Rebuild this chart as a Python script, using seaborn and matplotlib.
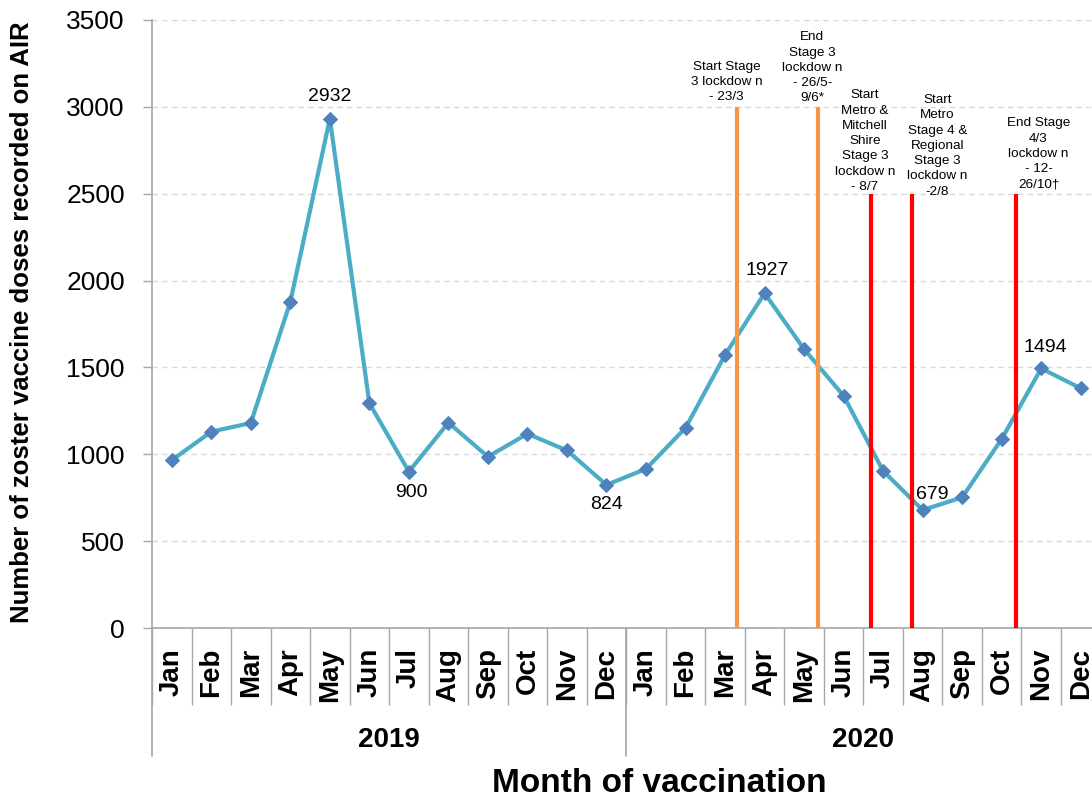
import numpy as np
import pandas as pd
import matplotlib
matplotlib.use("Agg")
import matplotlib.pyplot as plt
import seaborn as sns

# ---------------- data ----------------
months = ["Jan", "Feb", "Mar", "Apr", "May", "Jun", "Jul", "Aug", "Sep", "Oct", "Nov", "Dec"]
years = ["2019", "2020"]
doses_2019 = [966, 1130, 1180, 1877, 2932, 1294, 900, 1182, 986, 1118, 1022, 824]
doses_2020 = [916, 1152, 1572, 1927, 1605, 1337, 904, 679, 752, 1088, 1494, 1380]

# points that carry a value label: (index, offset x px, offset y px)
labelled = [(4, 0, 22), (6, 2, -21), (11, 0, -20), (15, 3, 23), (19, 10, 16), (22, 4, 21)]

# lockdown event markers (position on category axis, top value, colour, text)
event_pos = [14.30, 16.35, 17.69, 18.72, 21.36]
event_top = [3000, 3000, 2500, 2500, 2500]
event_col = ["#F79646", "#F79646", "#FF0000", "#FF0000", "#FF0000"]
event_text = [
    "Start Stage\n3 lockdow n\n- 23/3",
    "End\nStage 3\nlockdow n\n- 26/5-\n9/6*",
    "Start\nMetro &\nMitchell\nShire\nStage 3\nlockdow n\n- 8/7",
    "Start\nMetro\nStage 4 &\nRegional\nStage 3\nlockdow n\n-2/8",
    "End Stage\n4/3\nlockdow n\n- 12-\n26/10\u2020",
]
event_text_x = [14.04, 16.21, 17.54, 19.37, 21.93]
event_text_y = [3020, 3015, 2505, 2478, 2520]

doses = doses_2019 + doses_2020
df = pd.DataFrame({
    "pos": np.arange(len(doses)),
    "month": months * 2,
    "year": [years[0]] * 12 + [years[1]] * 12,
    "doses": doses,
})

# ---------------- style ----------------
sns.set_style("white")
plt.rcParams["font.family"] = ["Liberation Sans", "DejaVu Sans"]
plt.rcParams["text.color"] = "black"
plt.rcParams["xtick.labelcolor"] = "black"
plt.rcParams["ytick.labelcolor"] = "black"

W, H = 1092, 805
fig = plt.figure(figsize=(W / 100, H / 100), dpi=100)
ax_left, ax_bottom = 152 / W, (H - 628) / H
ax_w, ax_h = 948.5 / W, 608 / H
ax = fig.add_axes([ax_left, ax_bottom, ax_w, ax_h])

GRAY = "#A6A6A6"

ax.set_xlim(-0.5, 23.5)
ax.set_ylim(0, 3500)
ax.set_yticks(np.arange(0, 3501, 500))
ax.yaxis.grid(True, linestyle=(0, (4, 3)), color="#D9D9D9", lw=1)
ax.xaxis.grid(False)
ax.set_axisbelow(True)

for s in ["top", "right"]:
    ax.spines[s].set_visible(False)
for s in ["left", "bottom"]:
    ax.spines[s].set_color(GRAY)
    ax.spines[s].set_linewidth(1.2)

# event lines
ax.vlines(event_pos, 0, event_top, colors=event_col, lw=3, zorder=5)
for x, y, t in zip(event_text_x, event_text_y, event_text):
    ax.text(x, y, t, ha="center", va="bottom", fontsize=9.7, linespacing=1.36,
            color="black", zorder=6)

# data line
sns.lineplot(data=df, x="pos", y="doses", ax=ax, color="#4BACC6", lw=3,
             marker="D", markersize=7, markerfacecolor="#4F81BD",
             markeredgecolor="#4F81BD", zorder=4)

for i, dx, dy in labelled:
    ax.annotate(str(doses[i]), (df["pos"][i], doses[i]),
                xytext=(dx * 0.72, dy * 0.72), textcoords="offset points",
                ha="center", va="center", fontsize=14, color="black", zorder=6)

# axes text
ax.set_xlabel("")
ax.set_ylabel("")
ax.tick_params(axis="y", which="major", length=6.5, width=1, color=GRAY,
               labelsize=19, pad=13, left=True, labelcolor="black")
ax.set_xticks(df["pos"])
ax.set_xticklabels(df["month"], rotation=90, fontsize=20, fontweight="bold")
ax.tick_params(axis="x", which="major", length=0, pad=14.4, bottom=True,
               labelcolor="black")
ax.set_xticks(np.arange(-0.5, 24, 1), minor=True)
ax.tick_params(axis="x", which="minor", length=77 * 0.72, width=1, color=GRAY,
               direction="out", bottom=True)

# year separators and labels
trans = ax.get_xaxis_transform()
for xb in [-0.5, 11.5, 23.5]:
    ax.plot([xb, xb], [0, -128 / 608], transform=trans, color=GRAY, lw=1.2,
            clip_on=False)
for k, yr in enumerate(years):
    ax.text(5.5 + 12 * k, -(740 - 628) / 608, yr, transform=trans, ha="center",
            va="center", fontsize=20, fontweight="bold", color="black")

fig.text(659 / W, 1 - 783 / H, "Month of vaccination", ha="center", va="center",
         fontsize=24, fontweight="bold", color="black")
fig.text(22 / W, 1 - 322 / H, "Number of zoster vaccine doses recorded on AIR",
         ha="center", va="center", rotation=90, fontsize=18.5, fontweight="bold",
         color="black")

fig.savefig("out.png", dpi=100)
